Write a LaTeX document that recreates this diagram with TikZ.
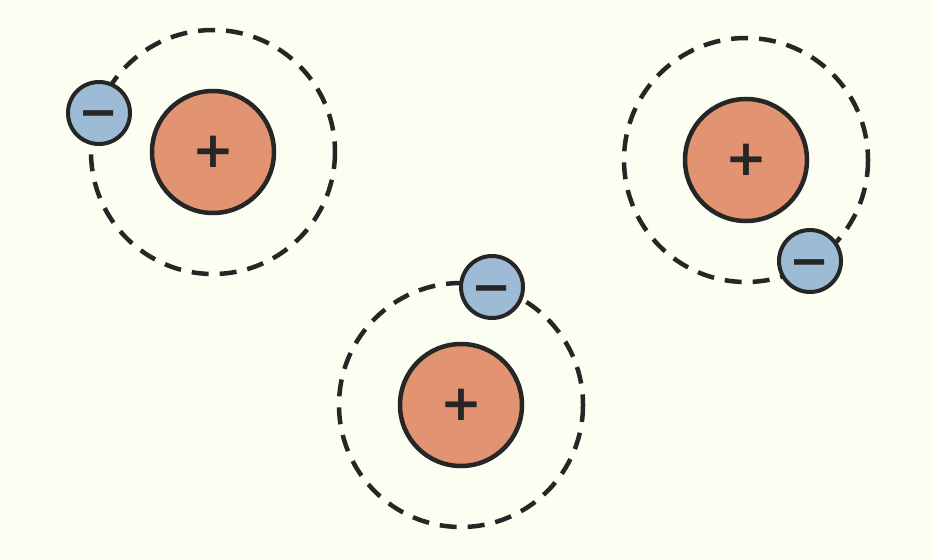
\documentclass[tikz,border=0pt]{standalone}
\usepackage{fontspec}
\setmainfont{DejaVu Sans}
\usetikzlibrary{shadows}
\begin{document}
\begin{tikzpicture}[x=1pt,y=-1pt,
  orbit/.style={draw=black!85, line width=4.5pt, dash pattern=on 17pt off 11pt},
  nucleus/.style={circle, draw=black!85, line width=4.5pt, fill={rgb,255:red,226;green,147;blue,113}, minimum size=122pt, inner sep=0pt, font=\fontsize{50}{50}\selectfont\bfseries, text=black!85},
  electron/.style={circle, draw=black!85, line width=4pt, fill={rgb,255:red,157;green,187;blue,212}, minimum size=62pt, inner sep=0pt, font=\fontsize{48}{48}\selectfont\bfseries, text=black!85, drop shadow={shadow xshift=1.5pt, shadow yshift=-1.5pt, opacity=0.25}},
]
\definecolor{bg}{RGB}{252,254,242}
\fill[bg] (0,0) rectangle (933,559);
\useasboundingbox (0,0) rectangle (933,559);
\draw[orbit] (213,152) circle (122);
\draw[orbit] (746,160) circle (122);
\draw[orbit] (461,405) circle (122);
\node[nucleus] (n1) at (213,152) {+};
\node[nucleus] (n2) at (746,160) {+};
\node[nucleus] (n3) at (461,405) {+};
\node[electron] (e1) at (99,113) {\smash{\raisebox{-16pt}{−}}};
\node[electron] (e2) at (810,261) {\smash{\raisebox{-16pt}{−}}};
\node[electron] (e3) at (492,287) {\smash{\raisebox{-16pt}{−}}};
\end{tikzpicture}
\end{document}
